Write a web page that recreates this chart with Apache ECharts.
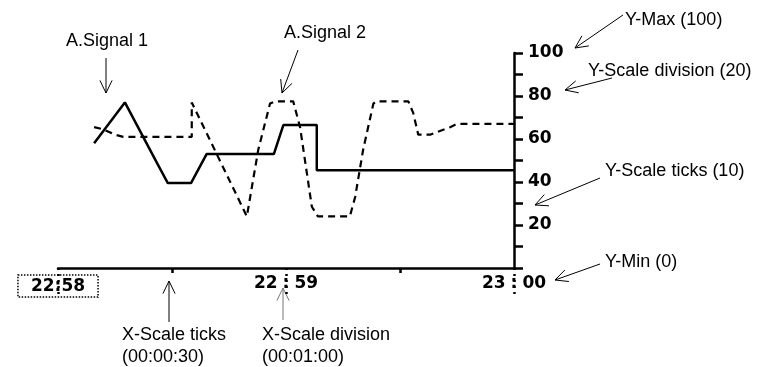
<!DOCTYPE html>
<html>
<head>
<meta charset="utf-8">
<script src="https://cdn.jsdelivr.net/npm/echarts@6/dist/echarts.min.js"></script>
<style>html,body{margin:0;padding:0;background:#fff}#c{width:760px;height:367px}</style>
</head>
<body>
<div id="c"></div>
<script>
// ---- data (x in seconds after 22:58:00) ----
const xTickLabels = ['22:58', '22:59', '23:00'];
const sig1Sec = [9.5, 17.6, 26.0, 28.9, 35.0, 39.1, 56.8, 59.3, 68.1, 68.1, 120];
const sig1Val = [58, 77, 49, 39.5, 39.5, 53, 53, 66.5, 66.5, 45.5, 45.5];
const sig2Sec = [9.5, 11.9, 15.0, 17.2, 35.2, 35.2, 49.7, 52.7, 55.8, 57.1, 61.9, 63.7, 66.8, 68.4, 76.8, 78.2, 80.3, 83.0, 83.7, 92.2, 93.5, 94.8, 97.9, 103.2, 104.9, 120];
const sig2Val = [65.5, 64.5, 62, 61, 61, 77, 24, 55, 76.5, 77.5, 77.5, 65.5, 28.5, 24, 24, 33, 55, 76.5, 77.5, 77.5, 72, 62, 62, 65.5, 67, 67];
const annotations = [
  {text: 'A.Signal 1', x: 66, y: 41.5},
  {text: 'A.Signal 2', x: 284, y: 33},
  {text: 'Y-Max (100)', x: 625, y: 20},
  {text: 'Y-Scale division (20)', x: 588, y: 71},
  {text: 'Y-Scale ticks (10)', x: 605, y: 171.5},
  {text: 'Y-Min (0)', x: 605, y: 262.5},
  {text: 'X-Scale ticks', x: 122, y: 335.5},
  {text: '(00:00:30)', x: 122, y: 357},
  {text: 'X-Scale division', x: 262, y: 335.5},
  {text: '(00:01:00)', x: 262, y: 357}
];
const arrows = [
  [106, 58, 106, 93, '#000'],
  [298, 50, 282, 93, '#000'],
  [623, 15, 575, 48, '#000'],
  [612, 78, 565, 90, '#000'],
  [600, 178, 535, 205, '#000'],
  [600, 264, 555, 280, '#000'],
  [169, 322, 169, 281, '#000'],
  [283, 320, 283, 288, '#777']
];

function arrow(x1, y1, x2, y2, color) {
  const a = Math.atan2(y2 - y1, x2 - x1), L = 14, th = 0.45;
  return {
    type: 'group',
    children: [
      {type: 'line', shape: {x1, y1, x2, y2}, style: {stroke: color, lineWidth: 1}},
      {type: 'polyline', shape: {points: [
        [x2 - L * Math.cos(a - th), y2 - L * Math.sin(a - th)],
        [x2, y2],
        [x2 - L * Math.cos(a + th), y2 - L * Math.sin(a + th)]
      ]}, style: {stroke: color, lineWidth: 1, fill: null}}
    ]
  };
}

const graphics = [];
annotations.forEach(a => graphics.push({
  type: 'text', x: a.x, y: a.y,
  style: {text: a.text, font: '18px "Liberation Sans", Arial, sans-serif', fill: '#000', align: 'left', verticalAlign: 'middle'}
}));
arrows.forEach(r => graphics.push(arrow(r[0], r[1], r[2], r[3], r[4])));

const chart = echarts.init(document.getElementById('c'), null, {renderer: 'canvas'});
const labFont = {fontFamily: '"DejaVu Sans", sans-serif', fontWeight: 'bold', fontSize: 17, color: '#000'};
chart.setOption({
  animation: false,
  backgroundColor: '#fff',
  grid: {left: 58, right: 246, top: 53, bottom: 99, containLabel: false, outerBoundsMode: 'none'},
  xAxis: {
    type: 'value', min: 0, max: 120, interval: 60,
    axisLine: {show: true, onZero: false, lineStyle: {color: '#000', width: 2.5}},
    axisTick: {show: true, length: 26, lineStyle: {color: '#000', width: 2.5, type: [2, 4]}},
    minorTick: {show: true, splitNumber: 2, length: 5, lineStyle: {color: '#000', width: 2.5}},
    splitLine: {show: false},
    minorSplitLine: {show: false},
    axisLabel: {
      margin: 7,
      formatter: function (v) {
        const s = xTickLabels[Math.round(v / 60)];
        if (!s) return '';
        const p = s.split(':');
        if (v === 0) return '{box|' + s + '}';
        return '{d|' + p[0] + '}{c|:}{d|' + p[1] + '}';
      },
      rich: {
        d: Object.assign({}, labFont),
        c: Object.assign({padding: [0, 5]}, labFont),
        box: Object.assign({padding: [3, 13, 2, 13], borderColor: '#000', borderWidth: 1.5, borderType: 'dotted'}, labFont)
      }
    }
  },
  yAxis: {
    type: 'value', position: 'right', min: 0, max: 100, interval: 20,
    axisLine: {show: true, onZero: false, lineStyle: {color: '#000', width: 2.5}},
    axisTick: {show: true, inside: false, length: 9, lineStyle: {color: '#000', width: 2.5}},
    minorTick: {show: true, splitNumber: 2, length: 9, lineStyle: {color: '#000', width: 2.5}},
    splitLine: {show: false},
    minorSplitLine: {show: false},
    axisLabel: Object.assign({margin: 14, formatter: v => v === 0 ? '' : String(v)}, labFont)
  },
  series: [
    {
      name: 'A.Signal 1', type: 'line', showSymbol: false, symbol: 'none',
      data: sig1Sec.map((s, i) => [s, sig1Val[i]]),
      lineStyle: {color: '#000', width: 2.5}
    },
    {
      name: 'A.Signal 2', type: 'line', showSymbol: false, symbol: 'none',
      data: sig2Sec.map((s, i) => [s, sig2Val[i]]),
      lineStyle: {color: '#000', width: 2.2, type: [7, 5]}
    }
  ],
  graphic: graphics
});
</script>
</body>
</html>
